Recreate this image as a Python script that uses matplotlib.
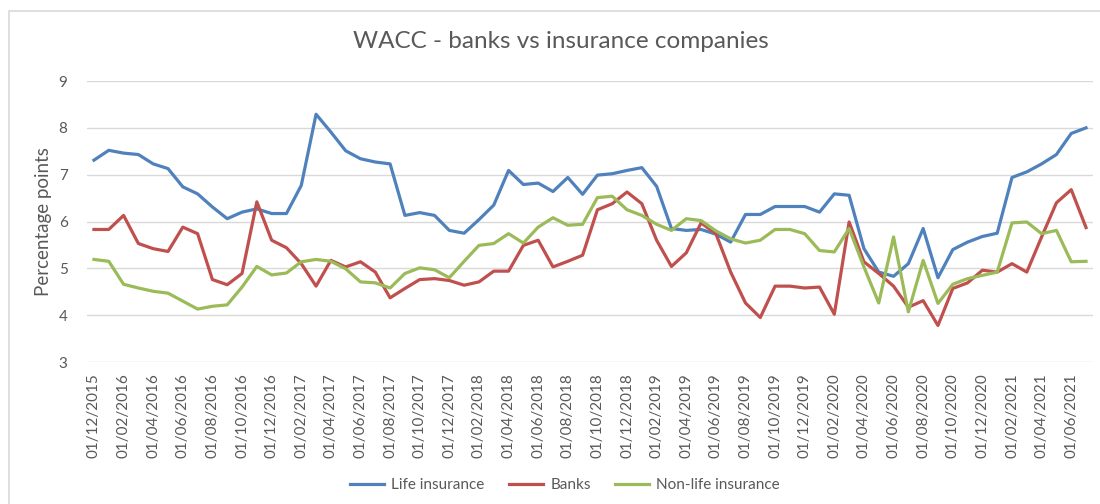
import matplotlib.pyplot as plt
from matplotlib.patches import Rectangle

# monthly dates, 01/12/2015 .. 01/07/2021
months = []
y, m = 2015, 12
for _ in range(68):
    months.append(f"01/{m:02d}/{y}")
    m += 1
    if m > 12:
        m, y = 1, y + 1

life = [7.31, 7.52, 7.46, 7.43, 7.23, 7.13, 6.74, 6.59, 6.31, 6.06,
        6.20, 6.27, 6.17, 6.17, 6.77, 8.29, 7.91, 7.51, 7.34, 7.27,
        7.23, 6.13, 6.19, 6.13, 5.81, 5.75, 6.04, 6.35, 7.09, 6.79,
        6.82, 6.64, 6.94, 6.58, 6.99, 7.02, 7.09, 7.15, 6.75, 5.85,
        5.81, 5.83, 5.73, 5.56, 6.15, 6.15, 6.32, 6.32, 6.32, 6.20,
        6.59, 6.56, 5.42, 4.92, 4.83, 5.10, 5.85, 4.80, 5.40, 5.56,
        5.68, 5.75, 6.94, 7.06, 7.23, 7.43, 7.88, 8.00]

banks = [5.83, 5.83, 6.13, 5.53, 5.42, 5.36, 5.88, 5.74, 4.76, 4.65,
         4.89, 6.42, 5.60, 5.44, 5.10, 4.62, 5.17, 5.03, 5.14, 4.92,
         4.37, 4.57, 4.76, 4.78, 4.74, 4.64, 4.71, 4.94, 4.94, 5.49,
         5.60, 5.03, 5.15, 5.28, 6.25, 6.38, 6.63, 6.38, 5.60, 5.04,
         5.33, 5.97, 5.74, 4.92, 4.26, 3.95, 4.62, 4.62, 4.58, 4.60,
         4.02, 5.99, 5.14, 4.89, 4.62, 4.17, 4.31, 3.78, 4.57, 4.69,
         4.96, 4.92, 5.10, 4.92, 5.67, 6.40, 6.68, 5.87]

nonlife = [5.19, 5.15, 4.66, 4.58, 4.51, 4.47, 4.30, 4.13, 4.19, 4.22,
           4.60, 5.04, 4.86, 4.90, 5.14, 5.19, 5.15, 4.99, 4.71, 4.69,
           4.58, 4.89, 5.01, 4.97, 4.80, 5.15, 5.49, 5.53, 5.74, 5.54,
           5.88, 6.08, 5.92, 5.94, 6.51, 6.54, 6.25, 6.13, 5.94, 5.81,
           6.06, 6.02, 5.80, 5.63, 5.54, 5.60, 5.83, 5.83, 5.74, 5.38,
           5.35, 5.85, 5.03, 4.26, 5.67, 4.07, 5.17, 4.25, 4.66, 4.78,
           4.85, 4.92, 5.97, 5.99, 5.74, 5.81, 5.14, 5.15]

plt.rcParams['font.family'] = ['Lato', 'DejaVu Sans']
grey = '#595959'

fig = plt.figure(figsize=(11, 5.04), dpi=100)
# light chart frame (cropped on right and bottom)
fig.patches.append(Rectangle((9 / 1100, -0.1), 1.2, 1 - 11 / 504 + 0.1,
                             transform=fig.transFigure, fill=False,
                             edgecolor='#D9D9D9', linewidth=1.2))

ax = fig.add_axes([87 / 1100, 142 / 504, 1006 / 1100, 281 / 504])
x = list(range(len(months)))
ax.plot(x, life, color='#4F81BD', lw=2.3, label='Life insurance')
ax.plot(x, banks, color='#C0504D', lw=2.3, label='Banks')
ax.plot(x, nonlife, color='#9BBB59', lw=2.3, label='Non-life insurance')

ax.set_xlim(-0.47, 67.47)
ax.set_ylim(3, 9)
ax.set_yticks(range(3, 10))
ax.set_xticks(x[::2])
ax.set_xticklabels(months[::2], rotation=90, fontsize=11, color=grey)
ax.tick_params(axis='y', labelsize=11, labelcolor=grey, length=0, pad=14)
ax.tick_params(axis='x', length=0, pad=8)
ax.grid(axis='y', color='#D9D9D9', lw=1)
ax.set_axisbelow(True)
for s in ax.spines.values():
    s.set_visible(False)

ax.set_ylabel('Percentage points', fontsize=13.5, color=grey, labelpad=5)
fig.text(561 / 1100, 1 - 42 / 504, 'WACC - banks vs insurance companies',
         ha='center', va='center', fontsize=17.5, color=grey)
fig.legend(loc='center', bbox_to_anchor=(565 / 1100, 19 / 504), ncol=3,
           frameon=False, fontsize=11, labelcolor=grey, handlelength=2.2,
           columnspacing=1.6, handletextpad=0.5)

fig.savefig('out.png', dpi=100)
